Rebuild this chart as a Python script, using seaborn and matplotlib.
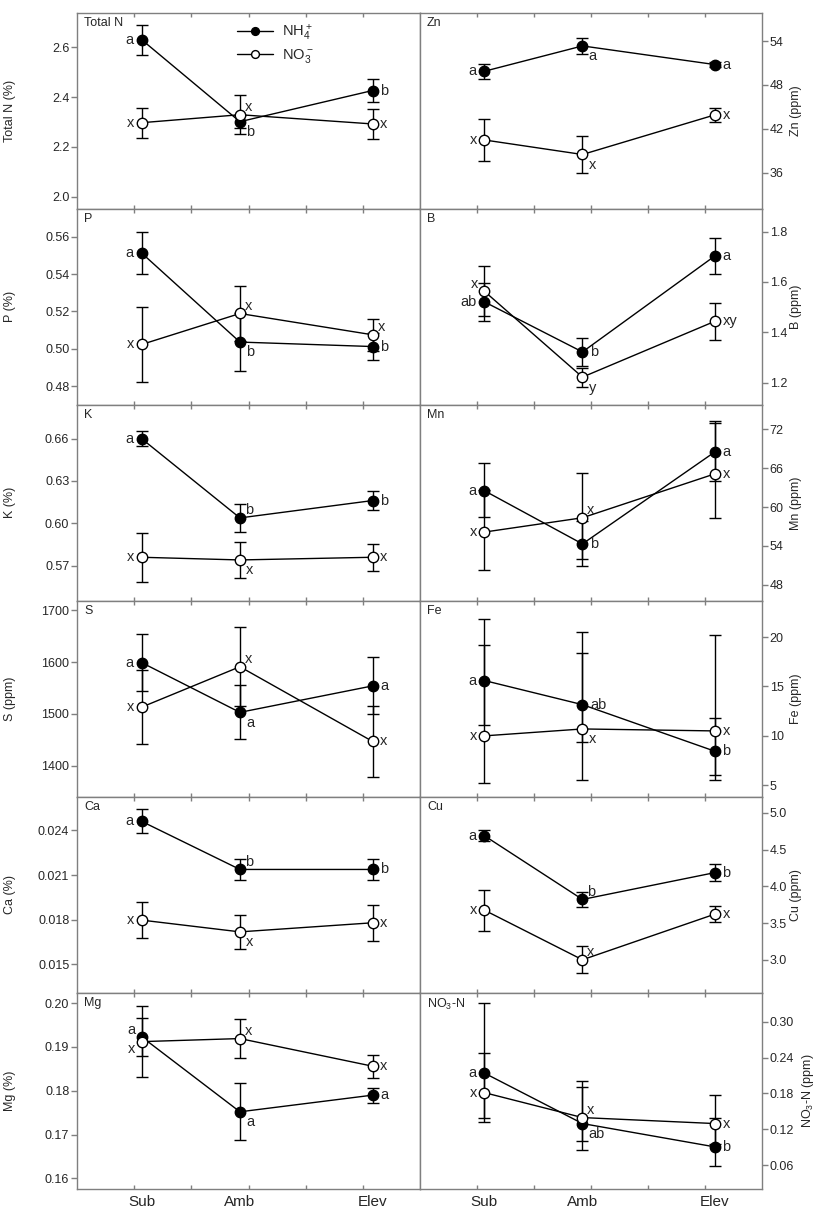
import numpy as np
import pandas as pd
import matplotlib
matplotlib.use("Agg")
import matplotlib.pyplot as plt
import seaborn as sns
from matplotlib.ticker import FixedLocator, FormatStrFormatter

# treatment groups and where they sit on the 0-6 x axis
treatments = ["Sub", "Amb", "Elev"]
x_pos = [1.13, 2.85, 5.17]

# ---- left column ----
tn_nh4 = [2.630, 2.301, 2.426]
tn_nh4_err = [0.060, 0.027, 0.045]
tn_no3 = [2.297, 2.329, 2.292]
tn_no3_err = [0.060, 0.078, 0.060]

p_nh4 = [0.5513, 0.5036, 0.5012]
p_nh4_err = [0.0114, 0.0157, 0.0071]
p_no3 = [0.5023, 0.5189, 0.5075]
p_no3_err = [0.0202, 0.0148, 0.0085]

k_nh4 = [0.6600, 0.6038, 0.6161]
k_nh4_err = [0.0055, 0.0102, 0.0068]
k_no3 = [0.5759, 0.5740, 0.5759]
k_no3_err = [0.0175, 0.0127, 0.0097]

s_nh4 = [1599, 1503, 1554]
s_nh4_err = [55, 52, 55]
s_no3 = [1513, 1591, 1447]
s_no3_err = [71, 76, 68]

ca_nh4 = [0.02461, 0.02138, 0.02138]
ca_nh4_err = [0.0008, 0.0007, 0.0007]
ca_no3 = [0.01798, 0.01719, 0.01780]
ca_no3_err = [0.0012, 0.00116, 0.0012]

mg_nh4 = [0.1923, 0.1752, 0.1790]
mg_nh4_err = [0.0044, 0.0065, 0.0017]
mg_no3 = [0.1912, 0.1919, 0.1856]
mg_no3_err = [0.0081, 0.0045, 0.0026]

# ---- right column ----
zn_nh4 = [49.88, 53.35, 50.80]
zn_nh4_err = [1.0, 1.15, 0.4]
zn_no3 = [40.47, 38.48, 43.90]
zn_no3_err = [2.85, 2.6, 1.0]

b_nh4 = [1.521, 1.322, 1.703]
b_nh4_err = [0.075, 0.057, 0.071]
b_no3 = [1.563, 1.222, 1.4435]
b_no3_err = [0.100, 0.038, 0.074]

# Mn, Fe and NO3-N bars are not symmetric: [below, above]
mn_nh4 = [62.52, 54.30, 68.50]
mn_nh4_err = [[4.07, 3.39, 4.40], [4.28, 3.60, 4.74]]
mn_no3 = [56.13, 58.34, 65.12]
mn_no3_err = [[5.87, 6.40, 6.87], [6.57, 6.86, 7.85]]

fe_nh4 = [15.60, 13.16, 8.45]
fe_nh4_err = [[4.50, 3.80, 2.45], [6.20, 5.20, 3.35]]
fe_no3 = [10.00, 10.70, 10.50]
fe_no3_err = [[4.80, 5.13, 5.00], [9.25, 9.85, 9.70]]

cu_nh4 = [4.690, 3.822, 4.187]
cu_nh4_err = [0.075, 0.103, 0.115]
cu_no3 = [3.676, 3.000, 3.621]
cu_no3_err = [0.280, 0.185, 0.106]

nn_nh4 = [0.2139, 0.1295, 0.0905]
nn_nh4_err = [[0.0759, 0.0445, 0.0322], [0.1171, 0.0705, 0.0485]]
nn_no3 = [0.1812, 0.1395, 0.1295]
nn_no3_err = [[0.0490, 0.0390, 0.0345], [0.0668, 0.0510, 0.0472]]

# significance letters
tn_nh4_let, tn_no3_let = ["a", "b", "b"], ["x", "x", "x"]
p_nh4_let, p_no3_let = ["a", "b", "b"], ["x", "x", "x"]
k_nh4_let, k_no3_let = ["a", "b", "b"], ["x", "x", "x"]
s_nh4_let, s_no3_let = ["a", "a", "a"], ["x", "x", "x"]
ca_nh4_let, ca_no3_let = ["a", "b", "b"], ["x", "x", "x"]
mg_nh4_let, mg_no3_let = ["a", "a", "a"], ["x", "x", "x"]
zn_nh4_let, zn_no3_let = ["a", "a", "a"], ["x", "x", "x"]
b_nh4_let, b_no3_let = ["ab", "b", "a"], ["x", "y", "xy"]
mn_nh4_let, mn_no3_let = ["a", "b", "a"], ["x", "x", "x"]
fe_nh4_let, fe_no3_let = ["a", "ab", "b"], ["x", "x", "x"]
cu_nh4_let, cu_no3_let = ["a", "b", "b"], ["x", "x", "x"]
nn_nh4_let, nn_no3_let = ["a", "ab", "b"], ["x", "x", "x"]

# y axis ranges and ticks
tn_ylim, tn_ticks = (1.952, 2.738), [2.0, 2.2, 2.4, 2.6]
p_ylim, p_ticks = (0.470, 0.575), [0.48, 0.50, 0.52, 0.54, 0.56]
k_ylim, k_ticks = (0.545, 0.684), [0.57, 0.60, 0.63, 0.66]
s_ylim, s_ticks = (1340, 1718), [1400, 1500, 1600, 1700]
ca_ylim, ca_ticks = (0.01309, 0.02625), [0.015, 0.018, 0.021, 0.024]
mg_ylim, mg_ticks = (0.1576, 0.2023), [0.16, 0.17, 0.18, 0.19, 0.20]
zn_ylim, zn_ticks = (31.05, 57.9), [36, 42, 48, 54]
b_ylim, b_ticks = (1.112, 1.891), [1.2, 1.4, 1.6, 1.8]
mn_ylim, mn_ticks = (45.5, 75.8), [48, 54, 60, 66, 72]
fe_ylim, fe_ticks = (3.82, 23.67), [5, 10, 15, 20]
cu_ylim, cu_ticks = (2.548, 5.219), [3.0, 3.5, 4.0, 4.5, 5.0]
nn_ylim, nn_ticks = (0.02, 0.348), [0.06, 0.12, 0.18, 0.24, 0.30]

sns.set_theme(style="ticks")
plt.rcParams["font.family"] = ["Liberation Sans", "DejaVu Sans"]
plt.rcParams["mathtext.default"] = "regular"

GREY = "#7f7f7f"
# letter placement around a marker: (dx, dy) in points, ha
SIDES = {
    "l": (-5.5, 0, "right"), "r": (5.5, 0, "left"),
    "dr": (4.5, -7.5, "left"), "ur": (3.5, 5.5, "left"),
    "ul": (-4.5, 5.0, "right"), "dl": (-4.5, -5.0, "right"),
}

panels = [
    # row, col, title, ylabel, nh4, err, no3, err, letters, sides, ylim, ticks, fmt
    (0, 0, "Total N", "Total N (%)", tn_nh4, tn_nh4_err, tn_no3, tn_no3_err,
     tn_nh4_let, tn_no3_let, ["l", "dr", "r"], ["l", "ur", "r"], tn_ylim, tn_ticks, "%.1f"),
    (1, 0, "P", "P (%)", p_nh4, p_nh4_err, p_no3, p_no3_err,
     p_nh4_let, p_no3_let, ["l", "dr", "r"], ["l", "ur", "ur"], p_ylim, p_ticks, "%.2f"),
    (2, 0, "K", "K (%)", k_nh4, k_nh4_err, k_no3, k_no3_err,
     k_nh4_let, k_no3_let, ["l", "ur", "r"], ["l", "dr", "r"], k_ylim, k_ticks, "%.2f"),
    (3, 0, "S", "S (ppm)", s_nh4, s_nh4_err, s_no3, s_no3_err,
     s_nh4_let, s_no3_let, ["l", "dr", "r"], ["l", "ur", "r"], s_ylim, s_ticks, "%d"),
    (4, 0, "Ca", "Ca (%)", ca_nh4, ca_nh4_err, ca_no3, ca_no3_err,
     ca_nh4_let, ca_no3_let, ["l", "ur", "r"], ["l", "dr", "r"], ca_ylim, ca_ticks, "%.3f"),
    (5, 0, "Mg", "Mg (%)", mg_nh4, mg_nh4_err, mg_no3, mg_no3_err,
     mg_nh4_let, mg_no3_let, ["ul", "dr", "r"], ["dl", "ur", "r"], mg_ylim, mg_ticks, "%.2f"),
    (0, 1, "Zn", "Zn (ppm)", zn_nh4, zn_nh4_err, zn_no3, zn_no3_err,
     zn_nh4_let, zn_no3_let, ["l", "dr", "r"], ["l", "dr", "r"], zn_ylim, zn_ticks, "%d"),
    (1, 1, "B", "B (ppm)", b_nh4, b_nh4_err, b_no3, b_no3_err,
     b_nh4_let, b_no3_let, ["l", "r", "r"], ["ul", "dr", "r"], b_ylim, b_ticks, "%.1f"),
    (2, 1, "Mn", "Mn (ppm)", mn_nh4, mn_nh4_err, mn_no3, mn_no3_err,
     mn_nh4_let, mn_no3_let, ["l", "r", "r"], ["l", "ur", "r"], mn_ylim, mn_ticks, "%d"),
    (3, 1, "Fe", "Fe (ppm)", fe_nh4, fe_nh4_err, fe_no3, fe_no3_err,
     fe_nh4_let, fe_no3_let, ["l", "r", "r"], ["l", "dr", "r"], fe_ylim, fe_ticks, "%d"),
    (4, 1, "Cu", "Cu (ppm)", cu_nh4, cu_nh4_err, cu_no3, cu_no3_err,
     cu_nh4_let, cu_no3_let, ["l", "ur", "r"], ["l", "ur", "r"], cu_ylim, cu_ticks, "%.1f"),
    (5, 1, r"NO$_3$-N", r"NO$_3$-N (ppm)", nn_nh4, nn_nh4_err, nn_no3, nn_no3_err,
     nn_nh4_let, nn_no3_let, ["l", "dr", "r"], ["l", "ur", "r"], nn_ylim, nn_ticks, "%.2f"),
]

W, H = 827, 1214
fig = plt.figure(figsize=(W / 100, H / 100), dpi=100)
col_x = [77 / W, 420 / W]
col_w = [343 / W, 342 / W]
top, bottom = 1 - 12.7 / H, 1 - 1189 / H
ph = (top - bottom) / 6

for (row, col, title, ylabel, nh4, nh4_err, no3, no3_err,
     nh4_let, no3_let, nh4_side, no3_side, ylim, ticks, fmt) in panels:
    ax = fig.add_axes([col_x[col], top - (row + 1) * ph, col_w[col], ph])

    series = [(nh4, nh4_err, nh4_let, nh4_side, "black", r"NH$_4^+$"),
              (no3, no3_err, no3_let, no3_side, "white", r"NO$_3^-$")]
    for vals, err, lets, sides, face, lab in series:
        ax.errorbar(x_pos, vals, yerr=err, fmt="none", ecolor="black",
                    elinewidth=1, capsize=4, capthick=1, zorder=2)
        sns.lineplot(x=x_pos, y=vals, ax=ax, color="black", linewidth=1,
                     marker="o", markersize=7.5, markerfacecolor=face,
                     markeredgecolor="black", markeredgewidth=1,
                     label=lab, zorder=3)
        for xv, yv, t, sd in zip(x_pos, vals, lets, sides):
            dx, dy, ha = SIDES[sd]
            ax.annotate(t, (xv, yv), xytext=(dx, dy), textcoords="offset points",
                        ha=ha, va="center", fontsize=10.5, zorder=4)

    if ax.get_legend() is not None:
        ax.get_legend().remove()
    if row == 0 and col == 0:
        ax.legend(loc="upper left", bbox_to_anchor=(0.466, 0.95), frameon=False,
                  fontsize=10.5, handlelength=2.45, handletextpad=0.65,
                  labelspacing=0.3, borderpad=0, borderaxespad=0,
                  markerscale=0.75)

    ax.set_xlim(0, 6)
    ax.set_ylim(*ylim)
    ax.xaxis.set_major_locator(FixedLocator(x_pos))
    ax.xaxis.set_minor_locator(FixedLocator([1, 2, 3, 4, 5]))
    ax.tick_params(axis="x", which="major", length=0, pad=4, labelsize=11,
                   labelbottom=(row == 5))
    ax.tick_params(axis="x", which="minor", direction="in", length=3,
                   color=GREY, top=True, bottom=True)
    if row == 5:
        ax.set_xticklabels(treatments)

    ax.yaxis.set_major_locator(FixedLocator(ticks))
    ax.yaxis.set_major_formatter(FormatStrFormatter(fmt))
    ax.yaxis.set_minor_locator(FixedLocator([]))
    if col == 1:
        ax.yaxis.tick_right()
        ax.yaxis.set_label_position("right")
    ax.tick_params(axis="y", which="major", length=4, width=1, pad=1.5,
                   color=GREY, labelsize=9)
    ax.set_ylabel(ylabel, fontsize=9)
    if col == 0:
        ax.yaxis.set_label_coords(-0.178, 0.5)
    else:
        # the subscripted label sits a little further out in the original
        ax.yaxis.set_label_coords(1.112 if "$" in ylabel else 1.082, 0.5)
    ax.set_xlabel("")

    for sp in ax.spines.values():
        sp.set_visible(True)
        sp.set_color(GREY)
        sp.set_linewidth(1)

    ax.annotate(title, xy=(0, 1), xycoords="axes fraction", xytext=(5, -3),
                textcoords="offset points", ha="left", va="top", fontsize=9)

fig.savefig("out.png", dpi=100)
